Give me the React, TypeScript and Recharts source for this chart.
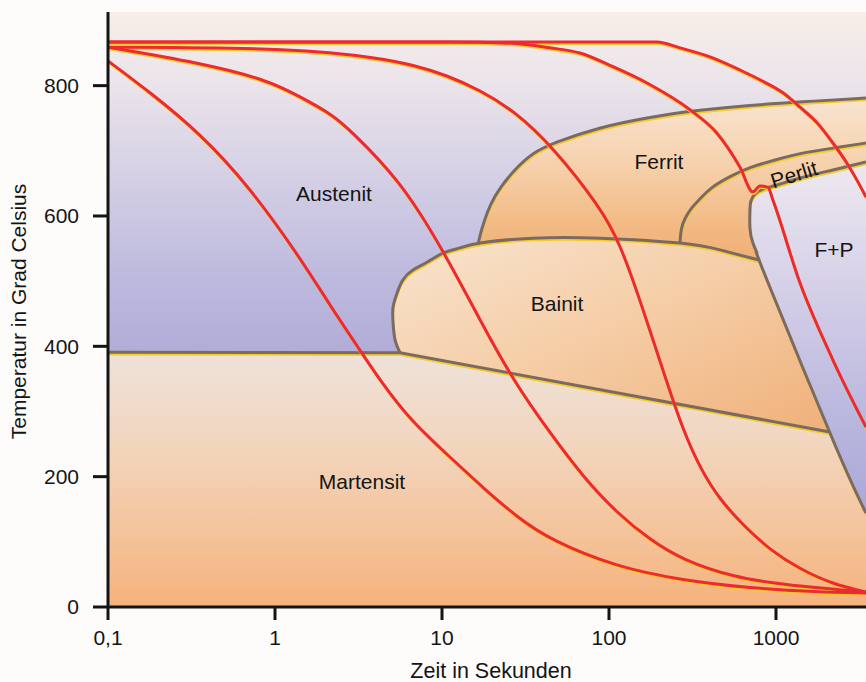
import React from 'react';
import { ComposedChart, XAxis, YAxis, Area, Line, CartesianGrid, ReferenceDot, Label } from 'recharts';

const FONT = '"Liberation Sans", Arial, Helvetica, sans-serif';

// x = log10(Zeit in Sekunden), t = Temperatur in °C
const timeTicks = [-1, 0, 1, 2, 3];
const timeTickLabels = ['0,1', '1', '10', '100', '1000'];
const tempTicks = [0, 200, 400, 600, 800];
const timeDomain: [number, number] = [-1, 3.539];
const tempDomain: [number, number] = [0, 913];

// cooling curves
const curveA = [
  { x: -1.0, t: 838 }, { x: -0.749, t: 790 }, { x: -0.449, t: 727 }, { x: -0.15, t: 644 },
  { x: 0.15, t: 536 }, { x: 0.329, t: 463 }, { x: 0.509, t: 394 }, { x: 0.629, t: 348 },
  { x: 0.808, t: 287 }, { x: 1.048, t: 230 }, { x: 1.246, t: 183 }, { x: 1.449, t: 138 },
  { x: 1.647, t: 103 }, { x: 2.048, t: 61 }, { x: 2.443, t: 41 }, { x: 2.844, t: 29 },
  { x: 3.246, t: 23 }, { x: 3.539, t: 21.5 },
];
const curveB = [
  { x: -1.0, t: 859 }, { x: -0.449, t: 835 }, { x: -0.048, t: 809 }, { x: 0.15, t: 783 },
  { x: 0.347, t: 755 }, { x: 0.449, t: 732 }, { x: 0.749, t: 655 }, { x: 1.006, t: 548 },
  { x: 1.228, t: 440 }, { x: 1.425, t: 348 }, { x: 1.647, t: 267 }, { x: 1.844, t: 200 },
  { x: 2.048, t: 144 }, { x: 2.246, t: 103 }, { x: 2.443, t: 72 }, { x: 2.743, t: 46 },
  { x: 3.042, t: 34 }, { x: 3.539, t: 23 },
];
const curveC = [
  { x: -1.0, t: 859 }, { x: 0.15, t: 857.5 }, { x: 0.629, t: 842 }, { x: 0.826, t: 832 },
  { x: 1.03, t: 816 }, { x: 1.228, t: 793 }, { x: 1.425, t: 763 }, { x: 1.665, t: 706 },
  { x: 1.946, t: 614 }, { x: 2.066, t: 558 }, { x: 2.186, t: 471 }, { x: 2.347, t: 344 },
  { x: 2.443, t: 272 }, { x: 2.545, t: 213 }, { x: 2.665, t: 164 }, { x: 2.814, t: 123 },
  { x: 2.964, t: 87.5 }, { x: 3.144, t: 58 }, { x: 3.341, t: 35 }, { x: 3.539, t: 23 },
];
const curveD = [
  { x: -1.0, t: 867 }, { x: 0.15, t: 867 }, { x: 1.048, t: 867 }, { x: 1.425, t: 865 },
  { x: 1.647, t: 858 }, { x: 1.826, t: 850 }, { x: 2.024, t: 829 }, { x: 2.228, t: 804 },
  { x: 2.485, t: 763 }, { x: 2.647, t: 727 }, { x: 2.784, t: 675 }, { x: 2.862, t: 637 },
  { x: 2.904, t: 646 }, { x: 2.952, t: 644 }, { x: 2.982, t: 624 }, { x: 3.144, t: 497 },
  { x: 3.341, t: 379 }, { x: 3.539, t: 276 },
];
const curveE = [
  { x: -1.0, t: 867 }, { x: 1.048, t: 867 }, { x: 2.287, t: 867 }, { x: 2.425, t: 858 },
  { x: 2.605, t: 844 }, { x: 2.784, t: 824 }, { x: 2.904, t: 809 }, { x: 3.042, t: 789 },
  { x: 3.144, t: 767 }, { x: 3.246, t: 743 }, { x: 3.341, t: 712 }, { x: 3.425, t: 681 },
  { x: 3.485, t: 655 }, { x: 3.539, t: 629 },
];

// phase fields
const martensitTop = [
  { x: -1.0, t: 391 }, { x: 0.749, t: 390 }, { x: 3.323, t: 268.5 }, { x: 3.539, t: 144 },
];
const msLine = [
  { x: -1.0, t: 391 }, { x: 0.749, t: 390 }, { x: 3.323, t: 268.5 },
];
const bainitRange = [
  { x: 0.707, r: [436, 460] }, { x: 0.719, r: [410, 472] }, { x: 0.731, r: [401, 482] },
  { x: 0.749, r: [390, 492] }, { x: 0.766, r: [389, 502] }, { x: 0.826, r: [386, 517] },
  { x: 0.91, r: [382, 529] }, { x: 1.006, r: [377.6, 543] }, { x: 1.108, r: [372.8, 551] },
  { x: 1.228, r: [367, 558.5] }, { x: 1.545, r: [352, 566] }, { x: 1.946, r: [333, 566] },
  { x: 2.425, r: [311, 558.5] }, { x: 2.665, r: [299.5, 548] }, { x: 2.904, r: [288, 532] },
  { x: 2.946, r: [286, 502] }, { x: 3.0, r: [283.7, 468] }, { x: 3.144, r: [277, 382] },
  { x: 3.246, r: [272.5, 320] }, { x: 3.323, r: [268.5, 268.5] },
];
const bainitOutline = [
  { x: 0.749, t: 390 }, { x: 0.719, t: 410 }, { x: 0.707, t: 436 }, { x: 0.707, t: 460 },
  { x: 0.731, t: 482 }, { x: 0.766, t: 502 }, { x: 0.826, t: 517 }, { x: 0.91, t: 529 },
  { x: 1.006, t: 543 }, { x: 1.108, t: 551 }, { x: 1.228, t: 558.5 }, { x: 1.545, t: 566 },
  { x: 1.946, t: 566 }, { x: 2.425, t: 558.5 }, { x: 2.665, t: 548 }, { x: 2.904, t: 532 },
];
const ferritTop = [
  { x: 1.216, t: 556 }, { x: 1.228, t: 571 }, { x: 1.251, t: 591 }, { x: 1.287, t: 617 },
  { x: 1.347, t: 644 }, { x: 1.449, t: 675 }, { x: 1.545, t: 697 }, { x: 1.665, t: 712 },
  { x: 1.946, t: 736.5 }, { x: 2.246, t: 752 }, { x: 2.545, t: 762.6 }, { x: 2.844, t: 770 },
  { x: 3.144, t: 775 }, { x: 3.539, t: 781 },
];
const perlitTop = [
  { x: 2.425, t: 558.5 }, { x: 2.431, t: 581.5 }, { x: 2.455, t: 597 }, { x: 2.497, t: 614 },
  { x: 2.545, t: 626 }, { x: 2.605, t: 643 }, { x: 2.725, t: 661 }, { x: 2.844, t: 675 },
  { x: 2.994, t: 686 }, { x: 3.144, t: 696.6 }, { x: 3.341, t: 704 }, { x: 3.539, t: 712 },
];
const fpRange = [
  { x: 2.844, r: [578.5, 613.8] }, { x: 2.856, r: [563, 624.5] }, { x: 2.874, r: [549, 632] },
  { x: 2.904, r: [532, 640] }, { x: 2.946, r: [506, 643] }, { x: 3.024, r: [457, 650] },
  { x: 3.144, r: [382, 658] }, { x: 3.341, r: [256, 671] }, { x: 3.539, r: [144, 683] },
];
const fpOutline = [
  { x: 3.539, t: 683 }, { x: 3.341, t: 670.6 }, { x: 3.144, t: 658.3 }, { x: 3.006, t: 647.5 },
  { x: 2.922, t: 641.4 }, { x: 2.874, t: 633.7 }, { x: 2.85, t: 623 }, { x: 2.844, t: 609 },
  { x: 2.844, t: 581.6 }, { x: 2.862, t: 558.5 }, { x: 2.886, t: 543.2 }, { x: 2.946, t: 501.8 },
  { x: 3.341, t: 256.2 }, { x: 3.539, t: 144.2 },
];

const regionLabels = [
  { name: 'Austenit', x: 0.353, t: 634, angle: 0 },
  { name: 'Ferrit', x: 2.299, t: 683, angle: 0 },
  { name: 'Perlit', x: 3.108, t: 664, angle: -17 },
  { name: 'F+P', x: 3.347, t: 549, angle: 0 },
  { name: 'Bainit', x: 1.689, t: 465, angle: 0 },
  { name: 'Martensit', x: 0.521, t: 193, angle: 0 },
];

const coolingCurves = [
  { data: curveA, type: 'basis' },
  { data: curveB, type: 'basis' },
  { data: curveC, type: 'basis' },
  { data: curveD, type: 'monotone' },
  { data: curveE, type: 'monotone' },
];
const outlines = [
  { data: msLine, type: 'linear' },
  { data: bainitOutline, type: 'natural' },
  { data: ferritTop, type: 'basis' },
  { data: perlitTop, type: 'basis' },
  { data: fpOutline, type: 'natural' },
];

const RED = '#ec2a30';
const YEL = '#f6cb2c';
const BROWN = '#7b6a5f';
const INK = '#141414';
const FS = 21;

export default function App() {
  return (
    <div style={{ position: 'absolute', left: 0, top: 0, width: 866, height: 682, background: '#fdfcfb' }}>
      <style>{`
        .shift-red path { transform: translate(0.6px, 1.7px); }
        .shift-brown path { transform: translate(0.3px, 2.2px); }
      `}</style>
      <ComposedChart width={866} height={682} margin={{ top: 12, right: 0, bottom: 0, left: 0 }}>
        <defs>
          <linearGradient id="gBg" x1="0" y1="0" x2="0" y2="1">
            <stop offset="0" stopColor="#f7eee8" />
            <stop offset="0.12" stopColor="#ebe4ea" />
            <stop offset="0.28" stopColor="#d4cfe5" />
            <stop offset="0.45" stopColor="#bdb9de" />
            <stop offset="0.6" stopColor="#aeaad6" />
            <stop offset="1" stopColor="#a8a4d3" />
          </linearGradient>
          <linearGradient id="gLow" x1="0" y1="0" x2="0" y2="1">
            <stop offset="0" stopColor="#eee2da" />
            <stop offset="0.35" stopColor="#f2d6bf" />
            <stop offset="0.7" stopColor="#f4c49c" />
            <stop offset="1" stopColor="#f5b27c" />
          </linearGradient>
          <linearGradient id="gDome" x1="0" y1="0" x2="0" y2="1">
            <stop offset="0" stopColor="#f8e4d0" />
            <stop offset="0.35" stopColor="#f6d2ae" />
            <stop offset="0.7" stopColor="#f2b983" />
            <stop offset="1" stopColor="#efa96c" />
          </linearGradient>
          <linearGradient id="gBainit" x1="0" y1="0" x2="1" y2="1">
            <stop offset="0" stopColor="#f8e4d0" />
            <stop offset="0.5" stopColor="#f5cca4" />
            <stop offset="1" stopColor="#f0b07a" />
          </linearGradient>
          <linearGradient id="gFP" x1="0" y1="0" x2="0" y2="1">
            <stop offset="0" stopColor="#eee9ef" />
            <stop offset="0.3" stopColor="#d9d4e9" />
            <stop offset="0.65" stopColor="#bfbce0" />
            <stop offset="1" stopColor="#a9a7d7" />
          </linearGradient>
        </defs>
        <CartesianGrid horizontal={false} vertical={false} fill="url(#gBg)" fillOpacity={1} />
        <XAxis
          type="number"
          dataKey="x"
          domain={timeDomain}
          allowDataOverflow
          ticks={timeTicks}
          tickFormatter={(v: number) => timeTickLabels[timeTicks.indexOf(v)] ?? ''}
          height={75}
          tickSize={13}
          tickMargin={10}
          axisLine={{ stroke: INK, strokeWidth: 3 }}
          tickLine={{ stroke: INK, strokeWidth: 3 }}
          tick={{ fontSize: FS, fill: INK, fontFamily: FONT }}
          interval={0}
        >
          <Label
            content={(p: any) => {
              const vb = p.viewBox || { x: 108, y: 607, width: 758, height: 75 };
              return (
                <text x={vb.x + vb.width / 2 + 4} y={vb.y + 71} textAnchor="middle" fontSize={21.5} fontFamily={FONT} fill={INK}>
                  Zeit in Sekunden
                </text>
              );
            }}
          />
        </XAxis>
        <XAxis
          xAxisId="top"
          orientation="top"
          type="number"
          dataKey="x"
          domain={timeDomain}
          allowDataOverflow
          height={0}
          tick={false}
          tickLine={false}
          axisLine={{ stroke: INK, strokeWidth: 3 }}
        />
        <YAxis
          type="number"
          domain={tempDomain}
          allowDataOverflow
          ticks={tempTicks}
          width={108}
          tickSize={15}
          tickMargin={14}
          axisLine={{ stroke: INK, strokeWidth: 3 }}
          tickLine={{ stroke: INK, strokeWidth: 3 }}
          tick={{ fontSize: FS, fill: INK, fontFamily: FONT }}
          interval={0}
        >
          <Label
            content={(p: any) => {
              const vb = p.viewBox || { x: 0, y: 12, width: 108, height: 595 };
              const cx = vb.x + 18;
              const cy = vb.y + vb.height / 2 + 2;
              return (
                <text x={cx} y={cy} transform={`rotate(-90, ${cx}, ${cy})`} textAnchor="middle" dominantBaseline="central" fontSize={FS} fontFamily={FONT} fill={INK}>
                  Temperatur in Grad Celsius
                </text>
              );
            }}
          />
        </YAxis>

        <Area data={martensitTop} dataKey="t" type="linear" baseValue={0} stroke="none" fill="url(#gLow)" fillOpacity={1} dot={false} activeDot={false} isAnimationActive={false} />
        <Area data={ferritTop} dataKey="t" type="basis" baseValue={500} stroke="none" fill="url(#gDome)" fillOpacity={1} dot={false} activeDot={false} isAnimationActive={false} />
        <Area data={bainitRange} dataKey="r" type="monotone" stroke="none" fill="url(#gBainit)" fillOpacity={1} dot={false} activeDot={false} isAnimationActive={false} />
        <Area data={fpRange} dataKey="r" type="monotone" stroke="none" fill="url(#gFP)" fillOpacity={1} dot={false} activeDot={false} isAnimationActive={false} />

        {outlines.map((o, i) => (
          <Line key={'oy' + i} className="shift-brown" data={o.data} dataKey="t" type={o.type as any} stroke={YEL} strokeWidth={2} dot={false} activeDot={false} isAnimationActive={false} />
        ))}
        {outlines.map((o, i) => (
          <Line key={'ob' + i} data={o.data} dataKey="t" type={o.type as any} stroke={BROWN} strokeWidth={3} dot={false} activeDot={false} isAnimationActive={false} />
        ))}
        {coolingCurves.map((c, i) => (
          <Line key={'cy' + i} className="shift-red" data={c.data} dataKey="t" type={c.type as any} stroke={YEL} strokeWidth={2.6} dot={false} activeDot={false} isAnimationActive={false} />
        ))}
        {coolingCurves.map((c, i) => (
          <Line key={'cr' + i} data={c.data} dataKey="t" type={c.type as any} stroke={RED} strokeWidth={3} dot={false} activeDot={false} isAnimationActive={false} />
        ))}

        {regionLabels.map((l) => (
          <ReferenceDot
            key={l.name}
            x={l.x}
            y={l.t}
            r={0}
            fill="none"
            stroke="none"
            label={<Label value={l.name} position="center" angle={l.angle} fontSize={FS} fill={INK} fontFamily={FONT} />}
          />
        ))}
      </ComposedChart>
    </div>
  );
}
